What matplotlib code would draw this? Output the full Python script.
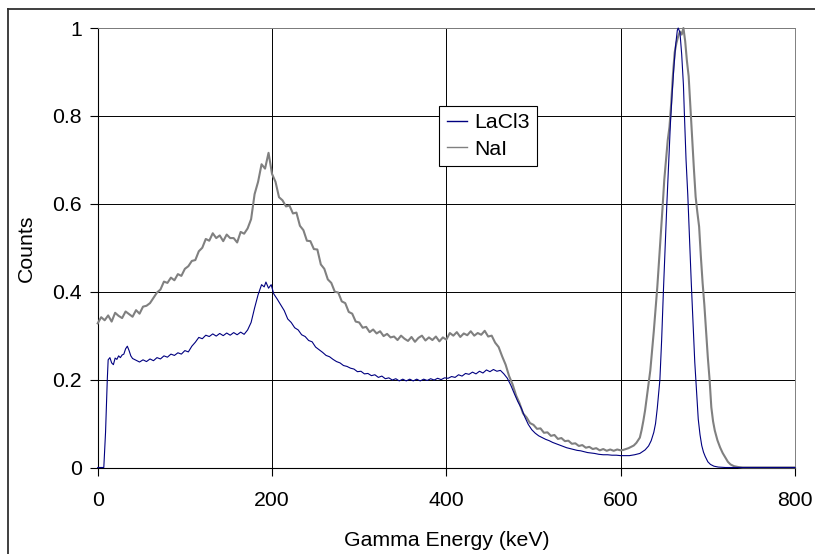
import numpy as np
import matplotlib
matplotlib.use("Agg")
import matplotlib.pyplot as plt
from matplotlib.lines import Line2D

# ---------------- data ----------------
series_names = ["LaCl3", "NaI"]
x_ticks = [0, 200, 400, 600, 800]
y_ticks = [0, 0.2, 0.4, 0.6, 0.8, 1]
y_tick_labels = ["0", "0.2", "0.4", "0.6", "0.8", "1"]

# NaI: energies (keV) and counts
nai_e_body = list(range(0, 601, 4))
nai_v_body = [
    # 0 .. 172
    0.328, 0.342, 0.335, 0.346, 0.332, 0.352, 0.345, 0.340, 0.355, 0.349,
    0.343, 0.358, 0.350, 0.366, 0.368, 0.374, 0.386, 0.398, 0.405, 0.423,
    0.420, 0.432, 0.426, 0.440, 0.436, 0.452, 0.458, 0.470, 0.472, 0.492,
    0.500, 0.520, 0.516, 0.533, 0.522, 0.528, 0.515, 0.530, 0.522, 0.522,
    0.512, 0.536, 0.532, 0.544,
    # 176 .. 300
    0.565, 0.622, 0.650, 0.690, 0.680, 0.716, 0.668, 0.650, 0.615, 0.608,
    0.594, 0.596, 0.578, 0.580, 0.550, 0.540, 0.516, 0.515, 0.497, 0.496,
    0.462, 0.452, 0.428, 0.420, 0.400, 0.398, 0.378, 0.374, 0.354, 0.350,
    0.332, 0.330,
    # 304 .. 448
    0.318, 0.320, 0.308, 0.314, 0.305, 0.310, 0.299, 0.304, 0.296, 0.298,
    0.290, 0.300, 0.293, 0.288, 0.297, 0.286, 0.295, 0.300, 0.289, 0.296,
    0.290, 0.298, 0.287, 0.296, 0.291, 0.306, 0.300, 0.308, 0.297, 0.305,
    0.301, 0.310, 0.300, 0.306, 0.302, 0.311, 0.298,
    # 452 .. 600
    0.300, 0.284, 0.274, 0.253, 0.234, 0.208, 0.189, 0.164, 0.146, 0.123,
    0.114, 0.101, 0.097, 0.088, 0.089, 0.079, 0.080, 0.072, 0.074, 0.065,
    0.067, 0.060, 0.061, 0.054, 0.055, 0.049, 0.051, 0.045, 0.047, 0.042,
    0.044, 0.039, 0.042, 0.038, 0.041, 0.038, 0.041, 0.039,
]
nai_e_peak = [603, 606, 609, 612, 615, 618, 620, 622, 624, 626, 628, 630,
              632, 634, 636, 638, 640, 642, 644, 646, 648, 650, 652, 654,
              656, 658, 660, 662, 664, 666, 668, 670, 672, 674, 676, 678,
              680, 682, 684, 686, 688, 690, 692, 694, 696, 698, 700, 702,
              704, 706, 708, 711, 714, 717, 720, 723, 726, 730, 735, 740,
              800]
nai_v_peak = [0.040, 0.042, 0.044, 0.047, 0.050, 0.056, 0.062, 0.068,
              0.085, 0.106, 0.130, 0.160, 0.190, 0.221, 0.265, 0.310,
              0.360, 0.410, 0.470, 0.530, 0.590, 0.654, 0.700, 0.745,
              0.775, 0.830, 0.895, 0.945, 0.966, 0.981, 0.992, 0.985,
              1.000, 0.970, 0.925, 0.890, 0.820, 0.750, 0.680, 0.616,
              0.580, 0.548, 0.480, 0.420, 0.370, 0.310, 0.250, 0.200,
              0.137, 0.105, 0.084, 0.062, 0.046, 0.033, 0.023, 0.013,
              0.007, 0.003, 0.001, 0.000, 0.000]

# LaCl3: energies (keV) and counts
lacl3_e = [0, 4, 7, 9, 11, 12, 14, 16, 18, 20, 22, 24, 26, 28, 30, 32, 34,
           36, 38, 40, 44, 48, 52, 56, 60, 64, 68, 72, 76, 80, 84, 88, 92,
           96, 100, 104, 108, 112, 116, 120, 124, 128, 132, 136, 140, 144,
           148, 152, 156, 160, 164, 168, 172, 176, 180, 184, 188, 191, 193,
           196, 199, 202, 206, 210, 214, 218, 222, 226, 230, 234, 238, 242,
           246, 250, 254, 258, 262, 266, 270, 274, 278, 282, 286, 290, 294,
           298, 302, 306, 310, 314, 318, 322, 326, 330, 334, 338, 342, 346,
           350, 354, 358, 362, 366, 370, 374, 378, 382, 386, 390, 394, 398,
           402, 406, 410, 414, 418, 422, 426, 430, 434, 438, 442, 446, 450,
           454, 458, 462, 466, 470, 474, 478, 482, 486, 490, 494, 498, 502,
           506, 510, 514, 518, 522, 526, 530, 534, 538, 542, 546, 550, 554,
           558, 562, 566, 570, 575, 580, 585, 590, 595,
           600, 610, 616, 622, 628, 632, 635, 638, 640, 642, 644, 645, 647,
           649, 651, 653, 655, 657, 659, 661, 663, 665, 666, 668, 670, 672,
           673, 675, 677, 679, 681, 683, 685, 687, 689, 691, 693, 695, 697,
           700, 703, 707, 712, 720, 800]
lacl3_v = [0.0, 0.0, 0.0, 0.08, 0.20, 0.245, 0.250, 0.238, 0.234, 0.249,
           0.246, 0.254, 0.250, 0.256, 0.258, 0.270, 0.276, 0.266, 0.254,
           0.248, 0.244, 0.240, 0.245, 0.241, 0.247, 0.243, 0.250, 0.247,
           0.254, 0.251, 0.258, 0.255, 0.261, 0.258, 0.266, 0.263, 0.276,
           0.285, 0.296, 0.293, 0.301, 0.298, 0.304, 0.299, 0.305, 0.300,
           0.306, 0.301, 0.307, 0.302, 0.308, 0.303, 0.313, 0.330, 0.363,
           0.393, 0.416, 0.411, 0.422, 0.408, 0.416, 0.395, 0.383, 0.370,
           0.357, 0.338, 0.330, 0.318, 0.313, 0.302, 0.298, 0.289, 0.286,
           0.274, 0.268, 0.262, 0.255, 0.252, 0.246, 0.241, 0.238, 0.232,
           0.230, 0.226, 0.224, 0.218, 0.219, 0.213, 0.214, 0.209, 0.211,
           0.205, 0.208, 0.202, 0.204, 0.199, 0.202, 0.197, 0.201, 0.197,
           0.201, 0.197, 0.201, 0.197, 0.201, 0.198, 0.202, 0.199, 0.203,
           0.200, 0.204, 0.203, 0.207, 0.205, 0.211, 0.208, 0.214, 0.212,
           0.217, 0.213, 0.219, 0.215, 0.222, 0.218, 0.223, 0.219, 0.221,
           0.213, 0.203, 0.187, 0.168, 0.150, 0.135, 0.115, 0.098, 0.086,
           0.078, 0.072, 0.068, 0.064, 0.061, 0.057, 0.054, 0.051, 0.048,
           0.045, 0.043, 0.041, 0.039, 0.038, 0.036, 0.034, 0.033, 0.032,
           0.030, 0.029, 0.029, 0.028, 0.028,
           0.027, 0.027, 0.029, 0.032, 0.040, 0.049, 0.061, 0.080, 0.100,
           0.135, 0.180, 0.200, 0.290, 0.400, 0.500, 0.600, 0.690, 0.780,
           0.850, 0.910, 0.960, 0.995, 1.000, 0.990, 0.940, 0.870, 0.810,
           0.700, 0.620, 0.520, 0.420, 0.330, 0.240, 0.175, 0.110, 0.075,
           0.050, 0.035, 0.025, 0.013, 0.007, 0.003, 0.001, 0.000, 0.000]

nai_e = nai_e_body + nai_e_peak
nai_v = nai_v_body + nai_v_peak

# ---------------- figure ----------------
plt.rcParams['font.family'] = ['Liberation Sans', 'DejaVu Sans']
FS = 15.3
W, H = 815, 554
fig = plt.figure(figsize=(W / 100, H / 100), dpi=100)
L, R, T, B = 97.7, 795.0, 28.0, 467.5
ax = fig.add_axes([L / W, 1 - B / H, (R - L) / W, (B - T) / H])

ax.plot(nai_e, nai_v, color='#808080', lw=1.5, label=series_names[1],
        zorder=3, clip_on=False)
ax.plot(lacl3_e, lacl3_v, color='#000080', lw=0.8, label=series_names[0],
        zorder=4, clip_on=False)

ax.set_xlim(0, 800)
ax.set_ylim(0, 1)
ax.set_xticks(x_ticks)
ax.set_yticks(y_ticks)
ax.set_yticklabels(y_tick_labels)
ax.grid(True, color='#000000', lw=0.7)
ax.set_axisbelow(True)

for s in ['top', 'right']:
    ax.spines[s].set_color('#808080')
    ax.spines[s].set_linewidth(0.7)
for s in ['left', 'bottom']:
    ax.spines[s].set_color('#000000')
    ax.spines[s].set_linewidth(0.8)

ax.tick_params(axis='both', direction='out', length=6, width=0.8,
               labelsize=FS, colors='#000000')
ax.tick_params(axis='x', pad=11)
ax.tick_params(axis='y', pad=5.5)

ax.set_xlabel('Gamma Energy (keV)', fontsize=FS)
ax.set_ylabel('Counts', fontsize=FS)
ax.xaxis.label.set_va('center')
ax.yaxis.label.set_va('center')
ax.xaxis.set_label_coords(0.5, (B - 541) / (B - T))
ax.yaxis.set_label_coords((26 - L) / (R - L), 0.5)

handles, labels = ax.get_legend_handles_labels()
order = [1, 0]
leg = ax.legend([handles[i] for i in order], [labels[i] for i in order],
                loc='upper left',
                bbox_to_anchor=((439.3 - L) / (R - L), (B - 105.7) / (B - T)),
                borderaxespad=0, frameon=True, fancybox=False, shadow=False,
                fontsize=FS, handlelength=0.95, handletextpad=0.35,
                borderpad=0.35, labelspacing=0.35)
leg.get_frame().set_edgecolor('#000000')
leg.get_frame().set_linewidth(0.8)
leg.get_frame().set_alpha(1)
for ln in leg.get_lines():
    ln.set_linewidth(1.0)
leg.set_zorder(10)

# outer chart frame (partly cropped in the reference)
fig.add_artist(Line2D([8 / W, 1.0], [1 - 8.5 / H, 1 - 8.5 / H],
                      transform=fig.transFigure, color='#303030', lw=1.3))
fig.add_artist(Line2D([8 / W, 8 / W], [0.0, 1 - 8.5 / H],
                      transform=fig.transFigure, color='#303030', lw=1.3))

fig.savefig('out.png', dpi=100)
